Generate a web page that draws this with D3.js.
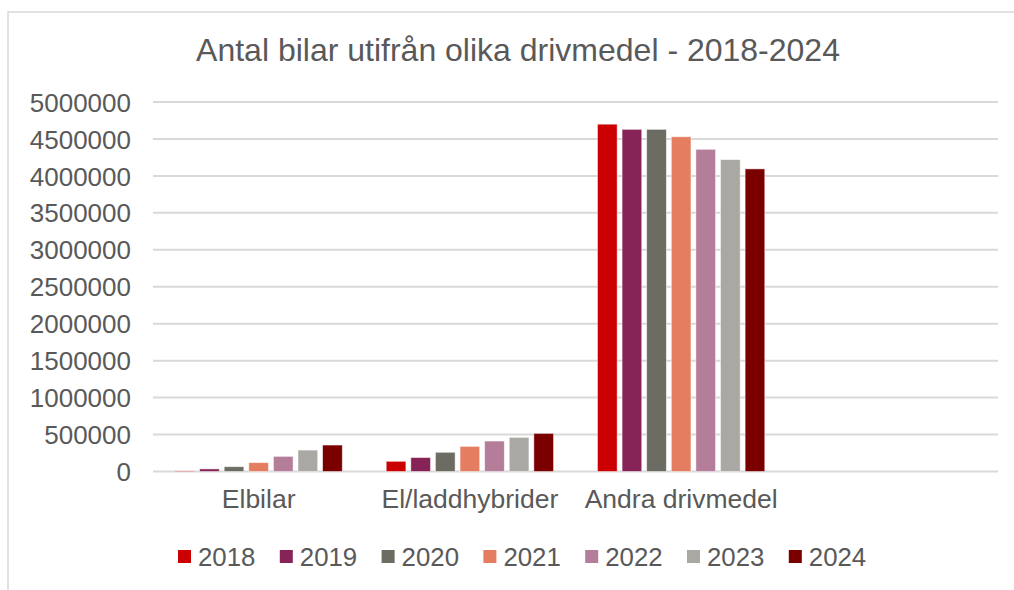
<!DOCTYPE html>
<html>
<head>
<meta charset="utf-8">
<script src="https://cdn.jsdelivr.net/npm/d3@7"></script>
<style>
  html, body { margin: 0; padding: 0; background: #fff; }
  svg { display: block; }
  text { font-family: "Liberation Sans", Arial, sans-serif; fill: #595959; }
</style>
</head>
<body>
<svg id="chart" width="1014" height="590"></svg>
<script>
// Categories (the fourth slot is an empty category, as in the source sheet)
const categories = ["Elbilar", "El/laddhybrider", "Andra drivmedel", ""];
const years = ["2018", "2019", "2020", "2021", "2022", "2023", "2024"];
const colors = ["#CC0000", "#862457", "#6C6C63", "#E57E60", "#B47E9A", "#A9A8A3", "#7A0000"];

// Number of cars per fuel type, one array per category, indexed by year
const elbilar        = [8000, 35000, 65000, 120000, 205000, 290000, 358000];
const laddhybrider   = [138000, 189000, 260000, 340000, 412000, 462000, 516000];
const andraDrivmedel = [4700000, 4630000, 4630000, 4530000, 4360000, 4220000, 4095000];
const emptyCategory  = [null, null, null, null, null, null, null];

const yTicks = d3.range(0, 5000001, 500000);

const seriesByCategory = [elbilar, laddhybrider, andraDrivmedel, emptyCategory];
const table = categories.map((c, i) => ({
  category: c,
  values: years.map((y, j) => ({ year: y, value: seriesByCategory[i][j], color: colors[j] }))
}));

const svg = d3.select("#chart");

// Outer chart frame
svg.append("rect")
  .attr("x", 8).attr("y", 12)
  .attr("width", 1020).attr("height", 600)
  .attr("fill", "#fff")
  .attr("stroke", "#d9d9d9").attr("stroke-width", 1.5);

const plot = { left: 153, right: 998, top: 102, bottom: 471.5 };

const y = d3.scaleLinear().domain([0, 5000000]).range([plot.bottom, plot.top]);
const x0 = d3.scaleBand().domain(categories).range([plot.left, plot.right]).padding(0);
const bw = x0.bandwidth();
const x1 = d3.scaleBand().domain(years).range([19.5, bw - 19.5]).paddingInner(0.2).paddingOuter(0.1);

// Title
svg.append("text")
  .attr("x", 518).attr("y", 61)
  .attr("text-anchor", "middle")
  .style("font-size", "32px")
  .text("Antal bilar utifrån olika drivmedel - 2018-2024");

// Horizontal gridlines
svg.append("g")
  .selectAll("line")
  .data(yTicks)
  .join("line")
  .attr("x1", plot.left).attr("x2", plot.right)
  .attr("y1", d => y(d)).attr("y2", d => y(d))
  .attr("stroke", "#d9d9d9").attr("stroke-width", 2);

// Y axis labels
const yAxis = svg.append("g")
  .attr("transform", `translate(${plot.left},0)`)
  .call(d3.axisLeft(y).tickValues(yTicks).tickFormat(d3.format("d")).tickSize(0).tickPadding(22));
yAxis.select(".domain").remove();
yAxis.selectAll("text")
  .style("font-size", "26px")
  .style("font-family", "'Liberation Sans', Arial, sans-serif")
  .attr("fill", "#595959")
  .attr("dy", "0.35em");

// Bars
const groups = svg.append("g")
  .selectAll("g")
  .data(table)
  .join("g")
  .attr("transform", d => `translate(${x0(d.category)},0)`);

groups.selectAll("rect")
  .data(d => d.values.filter(v => v.value != null))
  .join("rect")
  .attr("x", d => x1(d.year))
  .attr("width", x1.bandwidth())
  .attr("y", d => y(d.value))
  .attr("height", d => y(0) - y(d.value))
  .attr("fill", d => d.color)
  .attr("stroke", "rgba(255,255,255,0.6)")
  .attr("stroke-width", 0.8);

// Category axis
const xAxis = svg.append("g")
  .attr("transform", `translate(0,${plot.bottom})`)
  .call(d3.axisBottom(x0).tickSize(0).tickPadding(18));
xAxis.select(".domain").remove();
xAxis.selectAll("text")
  .style("font-size", "26.5px")
  .style("font-family", "'Liberation Sans', Arial, sans-serif")
  .attr("fill", "#595959")
  .attr("dy", "0.71em");

// Legend
const legendX = d3.scaleBand().domain(years).range([178, 178 + 7 * 101.8]);
const legend = svg.append("g")
  .selectAll("g")
  .data(years.map((yv, i) => ({ year: yv, color: colors[i] })))
  .join("g")
  .attr("transform", d => `translate(${legendX(d.year)},557)`);
legend.append("rect")
  .attr("x", 0).attr("y", -7)
  .attr("width", 13).attr("height", 13)
  .attr("fill", d => d.color);
legend.append("text")
  .attr("x", 20).attr("y", 0)
  .attr("dy", "0.36em")
  .style("font-size", "25.8px")
  .text(d => d.year);
</script>
</body>
</html>
